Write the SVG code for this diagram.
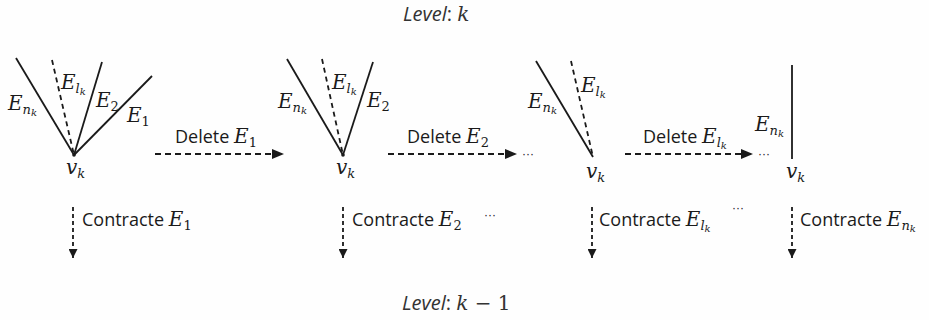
<svg xmlns="http://www.w3.org/2000/svg" width="929" height="320" viewBox="0 0 929 320">
<style>
.ln{stroke:#1a1a1a;stroke-width:1.8;fill:none}
.ds{stroke:#1a1a1a;stroke-width:1.8;fill:none;stroke-dasharray:5 4}
.vs{stroke:#1a1a1a;stroke-width:1.8;fill:none;stroke-dasharray:4 3}
.ar{stroke:#1a1a1a;stroke-width:1.8;fill:none;stroke-dasharray:6 4}
.m{font-family:"DejaVu Serif","Liberation Serif",serif;font-style:italic;font-size:20px;fill:#1a1a1a}
.s{font-size:13px}
.ss{font-size:10px}
.n{font-style:normal}
.t{font-family:"Open Sans","Liberation Sans",sans-serif;font-size:18px;fill:#1a1a1a}
.lv{font-family:"Open Sans","Liberation Sans",sans-serif;font-style:italic;font-size:20px;fill:#333}
.d{font-family:"Liberation Sans",sans-serif;font-size:12px;fill:#1a1a1a}
</style>
<defs>
<marker id="ah" viewBox="0 0 12 10" refX="12" refY="5" markerWidth="12" markerHeight="10" markerUnits="userSpaceOnUse" orient="auto">
<path d="M0,0 L12,5 L0,10 Z" fill="#1a1a1a"/>
</marker>
<marker id="av" viewBox="0 0 10 10" refX="10" refY="5" markerWidth="10" markerHeight="9" markerUnits="userSpaceOnUse" orient="auto">
<path d="M0,0 L10,5 L0,10 Z" fill="#1a1a1a"/>
</marker>
</defs>
<rect width="929" height="320" fill="#fefefe"/>
<g id="level-top"><text x="403" y="21" class="lv">Level<tspan class="n">: </tspan><tspan class="m" style="fill:#333">k</tspan></text></g>
<g id="level-bottom"><text x="402" y="310" class="lv">Level<tspan class="n">: </tspan><tspan class="m" style="fill:#333">k</tspan><tspan class="m n" style="fill:#333"> − 1</tspan></text></g>

<g id="node1">
<line class="ln" x1="16" y1="58" x2="74" y2="155"/>
<line class="ds" x1="52" y1="60" x2="74" y2="155"/>
<line class="ln" x1="102" y1="62" x2="74" y2="155"/>
<line class="ln" x1="152" y1="76" x2="74" y2="155"/>
<circle cx="74" cy="155" r="1.8" fill="#1a1a1a"/>
<text x="8" y="110" class="m">E<tspan class="s" dy="4">n</tspan><tspan class="ss" dy="2">k</tspan></text>
<text x="61" y="89" class="m">E<tspan class="s" dy="4">l</tspan><tspan class="ss" dy="2">k</tspan></text>
<text x="96" y="107" class="m">E<tspan class="s n" dy="4">2</tspan></text>
<text x="127" y="122" class="m">E<tspan class="s n" dy="4">1</tspan></text>
<text x="66" y="174" class="m">v<tspan class="s" dy="4">k</tspan></text>
</g>

<g id="node2">
<line class="ln" x1="287" y1="59" x2="343" y2="155"/>
<line class="ds" x1="322" y1="59" x2="343" y2="155"/>
<line class="ln" x1="373" y1="62" x2="343" y2="155"/>
<circle cx="343" cy="155" r="1.8" fill="#1a1a1a"/>
<text x="278" y="108" class="m">E<tspan class="s" dy="4">n</tspan><tspan class="ss" dy="2">k</tspan></text>
<text x="332" y="89" class="m">E<tspan class="s" dy="4">l</tspan><tspan class="ss" dy="2">k</tspan></text>
<text x="367" y="107" class="m">E<tspan class="s n" dy="4">2</tspan></text>
<text x="336" y="174" class="m">v<tspan class="s" dy="4">k</tspan></text>
</g>

<g id="node3">
<line class="ln" x1="536" y1="61" x2="593" y2="157"/>
<line class="ds" x1="571" y1="61" x2="593" y2="157"/>
<text x="528" y="108" class="m">E<tspan class="s" dy="4">n</tspan><tspan class="ss" dy="2">k</tspan></text>
<text x="581" y="92" class="m">E<tspan class="s" dy="4">l</tspan><tspan class="ss" dy="2">k</tspan></text>
<text x="586" y="178" class="m">v<tspan class="s" dy="4">k</tspan></text>
</g>

<g id="node4">
<line class="ln" x1="792" y1="65" x2="792" y2="159"/>
<text x="755" y="131" class="m">E<tspan class="s" dy="4">n</tspan><tspan class="ss" dy="2">k</tspan></text>
<text x="786" y="178" class="m">v<tspan class="s" dy="4">k</tspan></text>
</g>

<g id="connectors">
<line class="ar" x1="155" y1="154" x2="284" y2="154" marker-end="url(#ah)"/>
<line class="ar" x1="388" y1="154" x2="517" y2="154" marker-end="url(#ah)"/>
<line class="ar" x1="625" y1="154" x2="753" y2="154" marker-end="url(#ah)"/>
<line class="vs" x1="73" y1="207" x2="73" y2="258" marker-end="url(#av)"/>
<line class="vs" x1="343" y1="207" x2="343" y2="258" marker-end="url(#av)"/>
<line class="vs" x1="592" y1="207" x2="592" y2="258" marker-end="url(#av)"/>
<line class="vs" x1="792" y1="207" x2="792" y2="258" marker-end="url(#av)"/>
</g>

<g id="labels">
<text x="175" y="143" class="t">Delete <tspan class="m">E</tspan><tspan class="m s n" dy="4">1</tspan></text>
<text x="407" y="143" class="t">Delete <tspan class="m">E</tspan><tspan class="m s n" dy="4">2</tspan></text>
<text x="522" y="158" class="d">···</text>
<text x="643" y="143" class="t">Delete <tspan class="m">E</tspan><tspan class="m s" dy="4">l</tspan><tspan class="m ss" dy="2">k</tspan></text>
<text x="758" y="158" class="d">···</text>
<text x="82" y="226" class="t">Contracte <tspan class="m">E</tspan><tspan class="m s n" dy="4">1</tspan></text>
<text x="352" y="226" class="t">Contracte <tspan class="m">E</tspan><tspan class="m s n" dy="4">2</tspan></text>
<text x="484" y="219" class="d">···</text>
<text x="732" y="212" class="d">···</text>
<text x="599" y="226" class="t">Contracte <tspan class="m">E</tspan><tspan class="m s" dy="4">l</tspan><tspan class="m ss" dy="2">k</tspan></text>
<text x="800" y="226" class="t">Contracte <tspan class="m">E</tspan><tspan class="m s" dy="4">n</tspan><tspan class="m ss" dy="2">k</tspan></text>
</g>
</svg>
